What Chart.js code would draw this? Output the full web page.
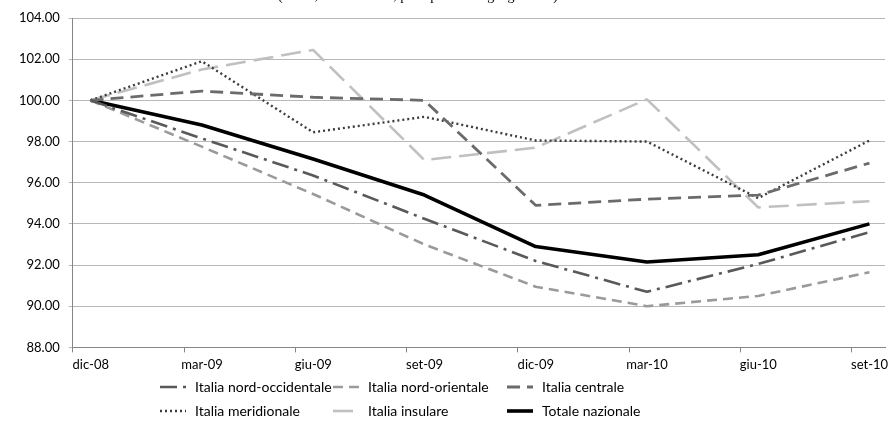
<!DOCTYPE html>
<html>
<head>
<meta charset="utf-8">
<script src="https://cdn.jsdelivr.net/npm/chart.js@4.4.1/dist/chart.umd.min.js"></script>
<style>
    html, body { margin: 0; padding: 0; background: #fff; }
    #wrap { width: 890px; height: 434px; }
</style>
</head>
<body>
<div id="wrap"><canvas id="lineChart"></canvas></div>
<script>
// categories (quarters) and index values, dic-08 = 100
var categories = ["dic-08", "mar-09", "giu-09", "set-09", "dic-09", "mar-10", "giu-10", "set-10"];
var nordOccidentale = [100, 98.15, 96.35, 94.25, 92.2, 90.7, 92.05, 93.6];
var nordOrientale = [100, 97.75, 95.45, 93.0, 90.95, 90.0, 90.5, 91.65];
var centrale = [100, 100.45, 100.15, 100.0, 94.9, 95.2, 95.4, 96.95];
var meridionale = [100, 101.9, 98.45, 99.2, 98.05, 98.0, 95.25, 98.05];
var insulare = [100, 101.5, 102.45, 97.1, 97.7, 100.05, 94.8, 95.1];
var totale = [100, 98.8, 97.15, 95.4, 92.9, 92.15, 92.5, 94.0];
var yMin = 88, yMax = 104, yStep = 2;
var titleText = "(indici, dic-08 = 100, per ripartizioni geografiche)";

var FONT = "Lato";

function toPoints(arr) {
    return arr.map(function (v, i) { return { x: i, y: v }; });
}

function makeSet(label, values, color, width, dash) {
    return {
        label: label,
        data: toPoints(values),
        borderColor: color,
        backgroundColor: color,
        borderWidth: width,
        borderDash: dash,
        borderCapStyle: "butt",
        borderJoinStyle: "round",
        pointRadius: 0,
        fill: false,
        tension: 0
    };
}

var datasets = [
    makeSet("Italia nord-occidentale", nordOccidentale, "#595959", 2.6, [17, 6, 3, 6]),
    makeSet("Italia nord-orientale", nordOrientale, "#9a9a9a", 2.6, [10, 6]),
    makeSet("Italia centrale", centrale, "#6b6b6b", 2.8, [13, 7]),
    makeSet("Italia meridionale", meridionale, "#3c3c3c", 2.4, [2, 3]),
    makeSet("Italia insulare", insulare, "#c0c0c0", 2.6, [20, 8]),
    makeSet("Totale nazionale", totale, "#000000", 3.6, [])
];

// excel-like legend: 3 aligned columns, 2 rows
var legendCols = [160, 333, 507];
var legendRows = [387, 411];
var legendPlugin = {
    id: "gridLegend",
    afterDraw: function (chart) {
        var ctx = chart.ctx;
        ctx.save();
        chart.data.datasets.forEach(function (ds, i) {
            var x = legendCols[i % 3];
            var y = legendRows[Math.floor(i / 3)];
            ctx.beginPath();
            ctx.strokeStyle = ds.borderColor;
            ctx.lineWidth = ds.borderWidth;
            ctx.setLineDash(ds.borderDash);
            ctx.moveTo(x, y);
            ctx.lineTo(x + 26, y);
            ctx.stroke();
            ctx.setLineDash([]);
            ctx.fillStyle = "#000";
            ctx.font = "14px " + FONT;
            ctx.textBaseline = "middle";
            ctx.textAlign = "left";
            ctx.fillText(ds.label, x + 35, y);
        });
        ctx.restore();
    }
};

// title is cut off at the top of the picture, only its descenders show
var titlePlugin = {
    id: "cutTitle",
    afterDraw: function (chart) {
        var ctx = chart.ctx;
        ctx.save();
        ctx.fillStyle = "#000";
        ctx.font = "14px 'Liberation Serif'";
        ctx.textAlign = "center";
        ctx.textBaseline = "alphabetic";
        ctx.fillText(titleText, 418, -0.5);
        ctx.restore();
    }
};

var ctxEl = document.getElementById("lineChart").getContext("2d");
var lineChart = new Chart(ctxEl, {
    type: "line",
    data: { datasets: datasets },
    options: {
        responsive: true,
        maintainAspectRatio: false,
        animation: false,
        layout: { padding: { top: 18, right: 5, bottom: 56, left: 10 } },
        plugins: {
            legend: { display: false },
            tooltip: { enabled: false }
        },
        scales: {
            x: {
                type: "linear",
                min: -0.16,
                max: 7.14,
                afterBuildTicks: function (axis) {
                    axis.ticks = categories.map(function (c, i) { return { value: i - 0.16 }; });
                },
                ticks: {
                    autoSkip: false,
                    maxRotation: 0,
                    labelOffset: 18,
                    padding: 5,
                    color: "#000",
                    font: { family: FONT, size: 13 },
                    callback: function (v, i) { return categories[i]; }
                },
                grid: {
                    drawOnChartArea: false,
                    drawTicks: true,
                    tickLength: 5,
                    color: "#868686"
                },
                border: { color: "#868686", width: 1 }
            },
            y: {
                min: yMin,
                max: yMax,
                ticks: {
                    stepSize: yStep,
                    padding: 9,
                    color: "#000",
                    font: { family: FONT, size: 13 },
                    callback: function (v) { return v.toFixed(2); }
                },
                grid: {
                    color: "#b8b8b8",
                    tickLength: 4
                },
                border: { color: "#868686", width: 1 }
            }
        }
    },
    plugins: [legendPlugin, titlePlugin]
});
</script>
</body>
</html>
